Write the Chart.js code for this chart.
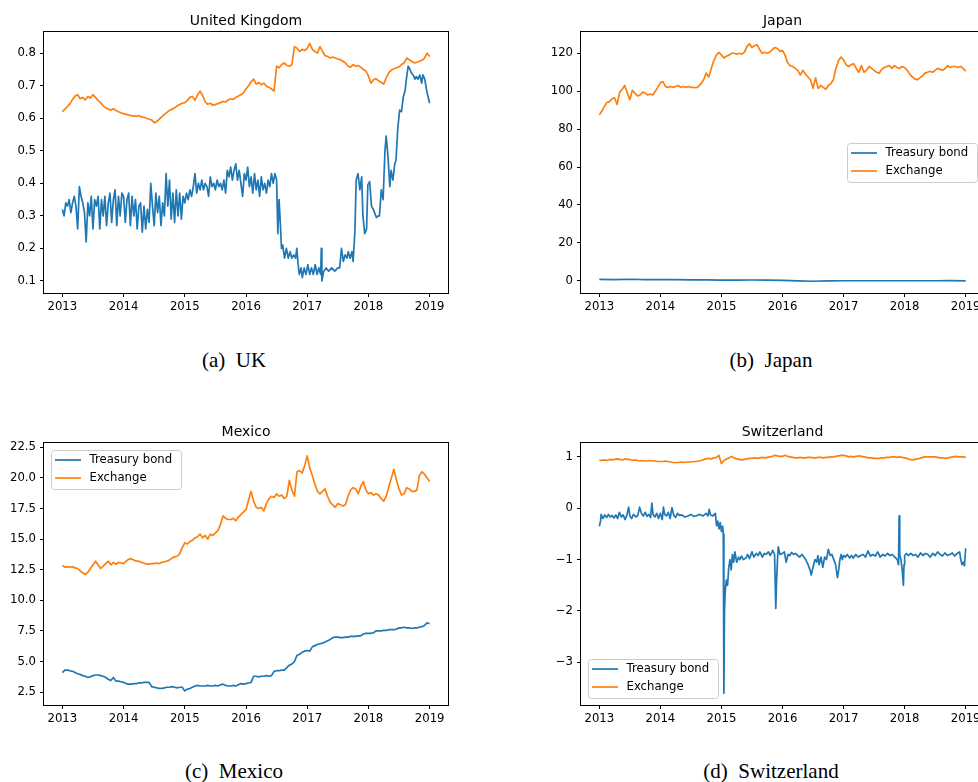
<!DOCTYPE html>
<html>
<head>
<meta charset="utf-8">
<title>Treasury bond and exchange rate</title>
<script src="https://cdn.jsdelivr.net/npm/chart.js@4.4.0/dist/chart.umd.min.js"></script>
<style>
html, body { margin: 0; padding: 0; background: #fff; overflow: hidden; width: 978px; height: 782px; }
canvas { position: absolute; }
.cap { position: absolute; width: 300px; text-align: center; font-family: "Liberation Serif", serif;
       font-size: 21px; line-height: 20px; color: #000; white-space: pre; }
</style>
</head>
<body>
<canvas id="ukChart" width="460" height="320" style="left:0;top:0"></canvas>
<canvas id="jpChart" width="500" height="320" style="left:500px;top:0"></canvas>
<canvas id="mxChart" width="460" height="320" style="left:0;top:410px"></canvas>
<canvas id="chChart" width="500" height="320" style="left:500px;top:410px"></canvas>
<div class="cap" style="left:84px;top:350px">(a)  UK</div>
<div class="cap" style="left:621px;top:350px">(b)  Japan</div>
<div class="cap" style="left:84px;top:761px">(c)  Mexico</div>
<div class="cap" style="left:621px;top:761px">(d)  Switzerland</div>
<script>
// ============================
// DATA
// ============================
const seriesLabels = ['Treasury bond', 'Exchange'];
const yearTicks = [2013, 2014, 2015, 2016, 2017, 2018, 2019];

// United Kingdom - exchange, two samples per month
const ukExchange = [
  0.620, 0.628, 0.636, 0.645, 0.658, 0.668, 0.672, 0.660, 0.664, 0.656, 0.667, 0.662, 0.672, 0.664, 0.655, 0.648, 0.638, 0.632, 0.628, 0.625, 0.629, 0.624, 0.620, 0.617,
  0.614, 0.612, 0.610, 0.608, 0.607, 0.606, 0.608, 0.604, 0.603, 0.600, 0.597, 0.595, 0.586, 0.590, 0.597, 0.605, 0.612, 0.618, 0.624, 0.628, 0.632, 0.638, 0.642, 0.646,
  0.648, 0.655, 0.664, 0.667, 0.655, 0.672, 0.683, 0.670, 0.650, 0.643, 0.646, 0.640, 0.642, 0.645, 0.648, 0.652, 0.650, 0.656, 0.660, 0.658, 0.664, 0.668, 0.672, 0.678,
  0.690, 0.700, 0.712, 0.720, 0.705, 0.710, 0.703, 0.708, 0.698, 0.695, 0.690, 0.683, 0.760, 0.755, 0.765, 0.770, 0.762, 0.760, 0.765, 0.820, 0.815, 0.805, 0.812, 0.808,
  0.815, 0.830, 0.812, 0.805, 0.800, 0.820, 0.805, 0.792, 0.790, 0.785, 0.788, 0.785, 0.782, 0.780, 0.775, 0.770, 0.760, 0.757, 0.765, 0.760, 0.762, 0.757, 0.750, 0.745,
  0.730, 0.708, 0.718, 0.722, 0.715, 0.710, 0.705, 0.725, 0.740, 0.748, 0.752, 0.755, 0.758, 0.765, 0.770, 0.785, 0.780, 0.775, 0.770, 0.772, 0.775, 0.778, 0.785, 0.800,
  0.790
];
// United Kingdom - bond, noisy stretch 2013 .. mid 2016, 36 samples per year
const ukBondEarly = [
  0.32, 0.30, 0.34, 0.33, 0.35, 0.31, 0.34, 0.36, 0.33, 0.26, 0.39, 0.36, 0.34, 0.31, 0.22, 0.34, 0.30, 0.36, 0.26, 0.35, 0.33, 0.36, 0.26, 0.35, 0.30, 0.36, 0.27, 0.34, 0.37, 0.28, 0.35, 0.38, 0.27, 0.36, 0.30, 0.37,
  0.36, 0.28, 0.35, 0.37, 0.27, 0.36, 0.30, 0.35, 0.26, 0.33, 0.34, 0.25, 0.33, 0.26, 0.32, 0.28, 0.40, 0.33, 0.27, 0.37, 0.31, 0.36, 0.27, 0.34, 0.30, 0.43, 0.33, 0.41, 0.29, 0.37, 0.28, 0.38, 0.30, 0.37, 0.29, 0.36,
  0.34, 0.37, 0.35, 0.38, 0.36, 0.39, 0.43, 0.37, 0.40, 0.38, 0.41, 0.38, 0.40, 0.39, 0.36, 0.42, 0.39, 0.40, 0.38, 0.41, 0.39, 0.40, 0.38, 0.41, 0.37, 0.44, 0.42, 0.45, 0.41, 0.44, 0.46, 0.41, 0.44, 0.40, 0.36, 0.43,
  0.41, 0.45, 0.39, 0.42, 0.37, 0.43, 0.38, 0.41, 0.36, 0.42, 0.38, 0.40, 0.37, 0.41, 0.39, 0.43, 0.40, 0.43
];
// United Kingdom - bond from mid 2016, [year, value]
const ukBondLate = [
  [2016.50, 0.41], [2016.52, 0.245], [2016.54, 0.35], [2016.56, 0.28], [2016.58, 0.20], [2016.60, 0.21], [2016.63, 0.17], [2016.66, 0.20],
  [2016.69, 0.17], [2016.72, 0.19], [2016.75, 0.17], [2016.78, 0.18], [2016.81, 0.17], [2016.83, 0.20], [2016.85, 0.155], [2016.87, 0.12],
  [2016.90, 0.14], [2016.92, 0.11], [2016.95, 0.14], [2016.98, 0.12], [2017.01, 0.15], [2017.04, 0.12], [2017.07, 0.14], [2017.10, 0.12],
  [2017.13, 0.15], [2017.16, 0.12], [2017.19, 0.14], [2017.22, 0.12], [2017.23, 0.20], [2017.24, 0.10], [2017.27, 0.13], [2017.31, 0.14],
  [2017.35, 0.13], [2017.40, 0.14], [2017.45, 0.13], [2017.50, 0.14], [2017.53, 0.14], [2017.56, 0.20], [2017.59, 0.16], [2017.62, 0.18],
  [2017.65, 0.17], [2017.67, 0.19], [2017.70, 0.17], [2017.73, 0.19], [2017.75, 0.16], [2017.78, 0.255], [2017.80, 0.41], [2017.83, 0.43],
  [2017.86, 0.38], [2017.89, 0.42], [2017.91, 0.30], [2017.94, 0.245], [2017.97, 0.26], [2017.99, 0.395], [2018.02, 0.405], [2018.05, 0.33],
  [2018.08, 0.32], [2018.10, 0.31], [2018.13, 0.295], [2018.16, 0.30], [2018.18, 0.30], [2018.21, 0.38], [2018.24, 0.35], [2018.27, 0.50],
  [2018.29, 0.545], [2018.32, 0.48], [2018.35, 0.39], [2018.37, 0.44], [2018.40, 0.41], [2018.43, 0.46], [2018.45, 0.47], [2018.48, 0.57],
  [2018.51, 0.625], [2018.54, 0.62], [2018.57, 0.665], [2018.60, 0.686], [2018.62, 0.72], [2018.65, 0.76], [2018.68, 0.75], [2018.70, 0.74],
  [2018.73, 0.733], [2018.76, 0.72], [2018.78, 0.728], [2018.81, 0.72], [2018.84, 0.733], [2018.87, 0.708], [2018.89, 0.733], [2018.92, 0.72],
  [2018.95, 0.687], [2018.97, 0.67], [2019.00, 0.646]
];

// Japan - exchange, two samples per month
const jpExchange = [
  87.5, 89.5, 92, 94, 94.5, 96, 96.5, 93, 99.5, 101, 103, 99, 95.5, 100.5, 99, 97.5, 98, 99.5, 99, 98, 98.5, 98, 100, 102,
  104.5, 105, 102.5, 102, 102.5, 102, 102.5, 103, 102, 102.5, 102, 102.5, 102, 102, 101.8, 102.5, 104, 106, 109.5, 107.5, 112, 116, 119, 120.5,
  119, 117.5, 118.5, 119, 120, 120, 119.5, 120, 119.5, 120.5, 123.5, 125, 123, 124, 124.5, 122, 120, 120.5, 120, 120.5, 122, 123, 122.5, 121,
  121.5, 119, 115, 113.5, 113, 112, 111, 108.5, 111, 109, 107.5, 106, 101.5, 107, 101.5, 103, 102, 101, 103, 104, 106, 112, 116, 118,
  116.5, 114, 113, 114, 114.5, 112, 110, 113.5, 110, 111, 113, 112, 111, 110, 109.5, 111.5, 112.5, 113, 113.5, 112, 113.5, 112.5, 112, 113,
  112.5, 111, 109, 107.5, 106.5, 106, 107, 108, 109.5, 110, 110.5, 110, 111, 112, 111.5, 111, 112, 113.5, 112.5, 113, 113, 112.5, 113, 112,
  110.5
];
// Japan - bond, quarterly
const jpBond = [0.80, 0.65, 0.85, 0.70, 0.65, 0.62, 0.55, 0.50, 0.40, 0.35, 0.45, 0.40, 0.30, 0.00, -0.20, -0.05, 0.05, 0.07, 0.05, 0.05, 0.07, 0.05, 0.05, 0.12, 0.00];

// Mexico - two samples per month
const mxExchange = [
  12.85, 12.7, 12.75, 12.7, 12.75, 12.65, 12.6, 12.4, 12.25, 12.1, 12.3, 12.6, 12.9, 13.2, 12.9, 12.6, 12.8, 13.0, 13.2, 12.9, 13.1, 12.95, 13.1, 13.05,
  13.0, 13.2, 13.35, 13.4, 13.3, 13.2, 13.2, 13.1, 13.05, 12.95, 12.95, 13.0, 13.0, 13.05, 13.0, 13.1, 13.15, 13.2, 13.3, 13.45, 13.55, 13.6, 13.8, 14.3,
  14.7, 14.6, 14.8, 14.9, 15.1, 15.2, 15.4, 15.1, 15.3, 15.0, 15.4, 15.3, 15.5, 15.7, 16.2, 16.9, 16.7, 16.6, 16.6, 16.7, 16.5, 16.8, 17.0, 17.2,
  17.4, 18.2, 18.9, 18.1, 17.6, 17.5, 17.6, 17.3, 17.9, 18.3, 18.5, 18.4, 18.7, 18.5, 18.6, 18.3, 18.5, 19.8, 19.0, 18.5, 20.5, 20.6, 20.4, 21.0,
  21.8, 20.8, 20.2, 19.5, 18.9, 18.7, 18.9, 19.1, 18.5, 18.0, 17.8, 17.6, 17.9, 17.8, 17.7, 17.8, 18.5, 19.0, 19.2, 19.1, 18.7, 19.3, 19.7, 19.0,
  18.7, 18.8, 18.6, 18.7, 18.6, 18.3, 18.1, 18.5, 19.3, 20.0, 20.7, 19.8, 19.1, 18.6, 18.7, 19.2, 19.1, 18.9, 18.9, 19.0, 20.2, 20.5, 20.3, 20.0,
  19.7
];
const mxBond = [
  4.1, 4.3, 4.3, 4.25, 4.2, 4.1, 4.0, 3.95, 3.85, 3.8, 3.7, 3.75, 3.85, 3.9, 3.9, 3.85, 3.8, 3.7, 3.55, 3.45, 3.7, 3.4, 3.4, 3.35,
  3.3, 3.2, 3.15, 3.15, 3.2, 3.2, 3.25, 3.25, 3.3, 3.3, 3.3, 2.95, 2.9, 2.85, 2.8, 2.8, 2.85, 2.9, 2.9, 2.95, 2.9, 2.85, 2.9, 2.9,
  2.6, 2.75, 2.8, 2.9, 3.0, 3.05, 3.0, 3.0, 3.0, 3.05, 3.0, 3.0, 3.05, 3.0, 3.1, 3.15, 3.05, 3.0, 3.0, 3.05, 3.0, 3.1, 3.2, 3.15,
  3.2, 3.25, 3.3, 3.8, 3.8, 3.75, 3.8, 3.8, 3.85, 3.8, 3.85, 4.2, 4.25, 4.25, 4.3, 4.3, 4.5, 4.7, 4.8, 5.0, 5.5, 5.6, 5.75, 5.85,
  5.9, 5.85, 6.2, 6.3, 6.4, 6.45, 6.5, 6.6, 6.7, 6.8, 6.95, 7.0, 7.0, 6.95, 6.95, 7.0, 7.0, 7.05, 7.05, 7.05, 7.1, 7.1, 7.25, 7.3,
  7.3, 7.3, 7.35, 7.5, 7.5, 7.5, 7.55, 7.55, 7.6, 7.6, 7.6, 7.65, 7.75, 7.75, 7.8, 7.75, 7.75, 7.7, 7.75, 7.75, 7.8, 7.85, 7.95, 8.15,
  8.1
];

// Switzerland - exchange, two samples per month
const chExchange = [
  0.93, 0.93, 0.94, 0.93, 0.95, 0.94, 0.95, 0.96, 0.95, 0.94, 0.96, 0.95, 0.95, 0.93, 0.94, 0.93, 0.92, 0.93, 0.92, 0.92, 0.93, 0.92, 0.92, 0.91,
  0.91, 0.91, 0.92, 0.91, 0.90, 0.89, 0.89, 0.89, 0.90, 0.89, 0.90, 0.90, 0.90, 0.91, 0.91, 0.92, 0.93, 0.95, 0.96, 0.97, 0.96, 0.98, 0.99, 1.03,
  0.87, 0.93, 0.96, 0.98, 1.01, 0.98, 0.96, 0.95, 0.94, 0.95, 0.96, 0.97, 0.97, 0.98, 0.97, 0.98, 0.99, 0.98, 0.99, 1.00, 1.01, 1.03, 1.02, 1.01,
  1.01, 1.03, 1.01, 1.00, 0.99, 0.98, 0.98, 0.99, 0.98, 0.98, 0.99, 0.99, 0.98, 0.98, 0.99, 0.99, 0.98, 0.99, 0.99, 1.00, 1.00, 1.01, 1.02, 1.03,
  1.03, 1.02, 1.00, 1.01, 1.00, 1.01, 1.02, 1.01, 1.00, 0.99, 0.98, 0.98, 0.97, 0.97, 0.97, 0.98, 0.98, 0.99, 0.99, 1.00, 1.00, 0.99, 1.00, 0.99,
  0.98, 0.97, 0.95, 0.94, 0.95, 0.96, 0.97, 0.99, 1.00, 1.00, 1.00, 1.00, 1.00, 0.99, 0.98, 0.98, 0.97, 0.98, 0.99, 1.00, 1.01, 1.00, 1.00, 1.00,
  0.99
];
// Switzerland - bond, [year, value]
const chBond = [
  [2013.00, -0.35], [2013.02, -0.25], [2013.03, -0.12], [2013.06, -0.20], [2013.09, -0.13], [2013.12, -0.18], [2013.15, -0.12], [2013.18, -0.17],
  [2013.21, -0.14], [2013.24, -0.19], [2013.27, -0.13], [2013.30, -0.20], [2013.33, -0.08], [2013.36, -0.17], [2013.39, -0.13], [2013.42, -0.22],
  [2013.45, -0.14], [2013.48, 0.02], [2013.50, -0.15], [2013.53, -0.20], [2013.56, -0.12], [2013.60, -0.17], [2013.63, -0.14], [2013.66, 0.02],
  [2013.69, -0.10], [2013.72, -0.15], [2013.75, -0.08], [2013.78, -0.16], [2013.81, -0.12], [2013.84, -0.18], [2013.86, 0.10], [2013.88, -0.12],
  [2013.91, -0.17], [2013.94, -0.10], [2013.97, -0.20], [2014.00, -0.10], [2014.03, -0.22], [2014.05, 0.02], [2014.07, -0.12], [2014.10, -0.15],
  [2014.13, -0.08], [2014.16, -0.20], [2014.19, 0.01], [2014.22, -0.14], [2014.25, -0.18], [2014.28, -0.10], [2014.31, -0.14], [2014.35, -0.13],
  [2014.40, -0.17], [2014.45, -0.15], [2014.50, -0.12], [2014.55, -0.16], [2014.60, -0.14], [2014.65, -0.12], [2014.70, -0.15], [2014.75, -0.10],
  [2014.78, -0.15], [2014.80, -0.02], [2014.82, -0.13], [2014.86, -0.15], [2014.90, -0.10], [2014.92, -0.34], [2014.94, -0.25], [2014.96, -0.40],
  [2014.98, -0.28], [2015.00, -0.45], [2015.02, -0.35], [2015.03, -0.50], [2015.04, -3.60], [2015.05, -2.00], [2015.06, -1.65], [2015.08, -1.40],
  [2015.10, -1.50], [2015.12, -1.15], [2015.14, -1.00], [2015.16, -1.20], [2015.18, -0.90], [2015.20, -1.05], [2015.22, -0.85], [2015.25, -1.05],
  [2015.28, -0.95], [2015.30, -1.00], [2015.33, -0.93], [2015.36, -1.00], [2015.40, -0.97], [2015.43, -0.90], [2015.46, -0.98], [2015.50, -0.85],
  [2015.53, -0.95], [2015.57, -0.88], [2015.60, -0.92], [2015.63, -0.85], [2015.67, -0.95], [2015.70, -0.88], [2015.73, -0.90], [2015.77, -0.85],
  [2015.80, -0.92], [2015.84, -0.82], [2015.87, -0.90], [2015.89, -1.95], [2015.90, -1.50], [2015.92, -0.95], [2015.93, -0.75], [2015.96, -0.90],
  [2016.00, -0.88], [2016.03, -0.85], [2016.06, -1.05], [2016.09, -0.90], [2016.12, -0.92], [2016.15, -0.86], [2016.18, -0.90], [2016.21, -0.88],
  [2016.25, -0.92], [2016.28, -0.95], [2016.32, -0.90], [2016.35, -0.95], [2016.38, -1.00], [2016.42, -1.10], [2016.45, -1.20], [2016.47, -1.30],
  [2016.50, -1.15], [2016.53, -1.00], [2016.56, -1.05], [2016.58, -0.92], [2016.60, -1.10], [2016.63, -0.95], [2016.66, -1.15], [2016.69, -0.95],
  [2016.72, -1.00], [2016.75, -0.80], [2016.78, -0.92], [2016.81, -0.90], [2016.84, -1.00], [2016.87, -1.10], [2016.90, -1.35], [2016.92, -1.20],
  [2016.94, -1.00], [2016.96, -0.90], [2016.98, -1.00], [2017.00, -0.92], [2017.03, -0.95], [2017.06, -0.90], [2017.10, -0.97], [2017.13, -0.92],
  [2017.16, -0.97], [2017.20, -0.90], [2017.24, -0.95], [2017.28, -0.92], [2017.32, -0.90], [2017.36, -0.95], [2017.40, -0.83], [2017.44, -0.93],
  [2017.48, -0.90], [2017.52, -0.93], [2017.56, -0.85], [2017.60, -0.95], [2017.64, -0.90], [2017.68, -0.93], [2017.72, -0.88], [2017.76, -0.92],
  [2017.80, -0.90], [2017.84, -0.95], [2017.88, -1.00], [2017.90, -1.10], [2017.91, -0.15], [2017.92, -0.90], [2017.94, -1.00], [2017.96, -1.20],
  [2017.98, -1.50], [2017.99, -1.10], [2018.00, -0.92], [2018.03, -0.88], [2018.06, -0.92], [2018.10, -0.88], [2018.14, -0.92], [2018.18, -0.90],
  [2018.22, -0.95], [2018.26, -0.87], [2018.30, -0.92], [2018.34, -0.88], [2018.38, -0.90], [2018.42, -0.95], [2018.46, -0.88], [2018.50, -0.92],
  [2018.54, -0.85], [2018.58, -0.90], [2018.62, -0.93], [2018.66, -0.87], [2018.70, -0.92], [2018.74, -0.90], [2018.78, -0.87], [2018.82, -0.93],
  [2018.86, -0.88], [2018.90, -0.85], [2018.92, -1.00], [2018.94, -1.10], [2018.96, -1.05], [2018.98, -1.12], [2019.00, -0.78]
];


// ============================
// HELPERS
// ============================
const BLUE = '#1f77b4';
const ORANGE = '#ff7f0e';
const FONT = '"DejaVu Sans", sans-serif';

// evenly sampled series starting Jan 2013
function onGrid(values, perYear) {
    return values.map((v, i) => ({ x: yearTicks[0] + i / perYear, y: v }));
}
function fromPairs(pairs) {
    return pairs.map(p => ({ x: p[0], y: p[1] }));
}
function minusFmt(v) {
    return v < 0 ? '\u2212' + Math.abs(v) : String(v);
}

// axes box, title and matplotlib-like legend
const framePlugin = {
    id: 'frame',
    afterDraw(chart, args, opts) {
        const { ctx, chartArea: a } = chart;
        ctx.save();
        ctx.strokeStyle = '#000';
        ctx.lineWidth = 1;
        ctx.strokeRect(Math.round(a.left) - 0.5, Math.round(a.top) - 0.5,
                       Math.round(a.right - a.left) + 1, Math.round(a.bottom - a.top) + 1);

        ctx.fillStyle = '#000';
        ctx.font = '14px ' + FONT;
        ctx.textAlign = 'center';
        ctx.textBaseline = 'alphabetic';
        ctx.fillText(opts.title, (a.left + a.right) / 2, a.top - 7);

        if (opts.legend) {
            const w = 130, h = 39, gap = 7;
            let bx = a.left + gap, by = a.top + gap;
            if (opts.legend === 'll') by = a.bottom - gap - h;
            if (opts.legend === 'right') { bx = a.right - gap - w; by = (a.top + a.bottom) / 2 - h / 2; }
            bx = Math.round(bx) + 0.5; by = Math.round(by) + 0.5;

            ctx.beginPath();
            ctx.roundRect(bx, by, w, h, 3);
            ctx.fillStyle = 'rgba(255,255,255,0.8)';
            ctx.fill();
            ctx.strokeStyle = '#cccccc';
            ctx.stroke();

            ctx.font = '11.7px ' + FONT;
            ctx.textAlign = 'left';
            ctx.textBaseline = 'middle';
            chart.data.datasets.forEach((ds, i) => {
                const cy = by + 9.5 + i * 18;
                ctx.beginPath();
                ctx.moveTo(bx + 3.5, cy);
                ctx.lineTo(bx + 29.5, cy);
                ctx.strokeStyle = ds.borderColor;
                ctx.lineWidth = 1.7;
                ctx.stroke();
                ctx.fillStyle = '#000';
                ctx.fillText(ds.label, bx + 38, cy);
            });
        }
        ctx.restore();
    }
};

function drawPanel(id, cfg) {
    const tickFont = { family: FONT, size: 11.7 };
    new Chart(document.getElementById(id), {
        type: 'line',
        data: {
            datasets: [
                { label: seriesLabels[0], data: cfg.bond, borderColor: BLUE, order: 2 },
                { label: seriesLabels[1], data: cfg.exchange, borderColor: ORANGE, order: 1 }
            ]
        },
        options: {
            responsive: false,
            animation: false,
            devicePixelRatio: 1,
            layout: { padding: { top: cfg.top, right: cfg.right, left: 0, bottom: 0 } },
            elements: {
                point: { radius: 0 },
                line: { borderWidth: 1.7, tension: 0, borderJoinStyle: 'round' }
            },
            plugins: {
                legend: { display: false },
                tooltip: { enabled: false },
                frame: { title: cfg.title, legend: cfg.legend }
            },
            scales: {
                x: {
                    type: 'linear',
                    min: 2012.7,
                    max: 2019.3,
                    afterFit: s => { s.height = cfg.xHeight; },
                    grid: { drawOnChartArea: false, tickLength: 4, color: '#000' },
                    border: { display: false },
                    ticks: {
                        stepSize: 1, includeBounds: false, padding: 3, maxRotation: 0,
                        color: '#000', font: tickFont,
                        callback: v => (yearTicks.includes(v) ? String(v) : '')
                    }
                },
                y: {
                    type: 'linear',
                    min: cfg.yMin,
                    max: cfg.yMax,
                    afterFit: s => { s.width = cfg.yWidth; },
                    grid: { drawOnChartArea: false, tickLength: 4, color: '#000' },
                    border: { display: false },
                    ticks: {
                        stepSize: cfg.yStep, includeBounds: false, padding: 4,
                        color: '#000', font: tickFont, callback: cfg.yFmt
                    }
                }
            }
        },
        plugins: [framePlugin]
    });
}


// ============================
// PANELS
// ============================
drawPanel('ukChart', {
    title: 'United Kingdom', legend: null,
    bond: onGrid(ukBondEarly, 36).concat(fromPairs(ukBondLate)),
    exchange: onGrid(ukExchange, 24),
    yMin: 0.063, yMax: 0.865, yStep: 0.1, yFmt: v => v.toFixed(1),
    top: 32, right: 12, yWidth: 44, xHeight: 27
});

drawPanel('jpChart', {
    title: 'Japan', legend: 'right',
    bond: onGrid(jpBond, 4),
    exchange: onGrid(jpExchange, 24),
    yMin: -6.4, yMax: 131.2, yStep: 20, yFmt: v => String(v),
    top: 32, right: 16, yWidth: 81, xHeight: 27
});

drawPanel('mxChart', {
    title: 'Mexico', legend: 'ul',
    bond: onGrid(mxBond, 24),
    exchange: onGrid(mxExchange, 24),
    yMin: 1.45, yMax: 22.85, yStep: 2.5, yFmt: v => v.toFixed(1),
    top: 33, right: 12, yWidth: 44, xHeight: 25
});

drawPanel('chChart', {
    title: 'Switzerland', legend: 'll',
    bond: fromPairs(chBond),
    exchange: onGrid(chExchange, 24),
    yMin: -3.83, yMax: 1.27, yStep: 1, yFmt: minusFmt,
    top: 33, right: 16, yWidth: 81, xHeight: 25
});
</script>
</body>
</html>
